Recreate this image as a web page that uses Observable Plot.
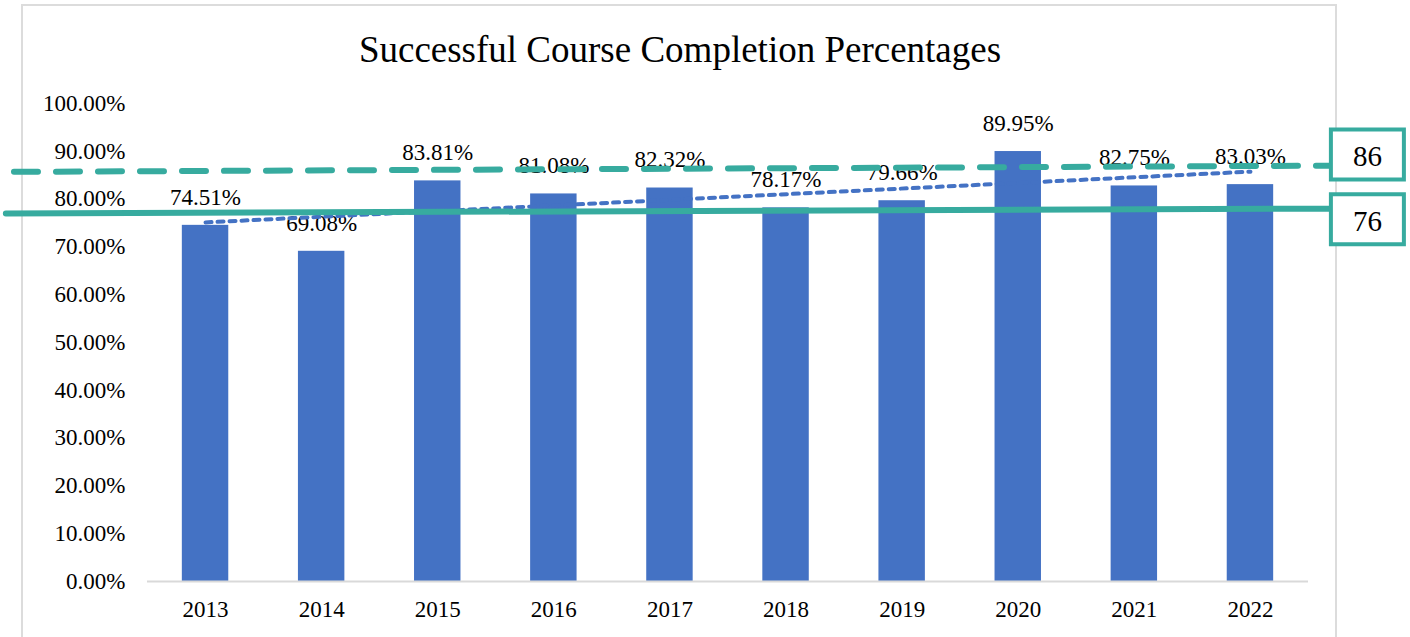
<!DOCTYPE html>
<html>
<head>
<meta charset="utf-8">
<script src="https://cdn.jsdelivr.net/npm/d3@7"></script>
<script src="https://cdn.jsdelivr.net/npm/@observablehq/plot@0.6"></script>
<style>
  html, body { margin: 0; padding: 0; background: #fff; overflow: hidden; }
  #wrap { position: relative; width: 1410px; height: 637px; font-family: "Liberation Serif", "Times New Roman", serif; }
  #frame { position: absolute; left: 21px; top: 4px; width: 1316px; height: 700px; border: 2px solid #dcdcdc; box-sizing: border-box; }
  #title { position: absolute; left: 21px; width: 1318px; top: 31px; text-align: center; font-size: 37px; line-height: 1; color: #000; }
  #chart { position: absolute; left: 0; top: 0; }
  #chart svg, #chart svg text { font-family: "Liberation Serif", "Times New Roman", serif !important; }
</style>
</head>
<body>
<div id="wrap">
  <div id="frame"></div>
  <div id="title">Successful Course Completion Percentages</div>
  <div id="chart"></div>
</div>
<script>
// ---- data ----
const years = [2013, 2014, 2015, 2016, 2017, 2018, 2019, 2020, 2021, 2022];
const values = [74.51, 69.08, 83.81, 81.08, 82.32, 78.17, 79.66, 89.95, 82.75, 83.03];
const yTicks = [0, 10, 20, 30, 40, 50, 60, 70, 80, 90, 100];

// target reference lines (hand-drawn overlays): labels and their drawn levels
const targetLabels = ["86", "76"];
const targetLevelStart = [85.7, 77.0];
const targetLevelEnd = [87.0, 78.0];
const targetXStart = [2011.35, 2011.28];
const targetXEnd = [2022.68, 2022.68];

const data = years.map((y, i) => ({year: y, value: values[i]}));
const teal = "#37AB9F";
const blue = "#4472C4";
const serif = "Liberation Serif";

const targetLine = (i) => [
  {x: targetXStart[i], y: targetLevelStart[i]},
  {x: targetXEnd[i], y: targetLevelEnd[i]}
];

const boxSymbol = {
  draw(context) {
    const w = 73, h = 50;
    context.moveTo(-w / 2, -h / 2);
    context.lineTo(w / 2, -h / 2);
    context.lineTo(w / 2, h / 2);
    context.lineTo(-w / 2, h / 2);
    context.closePath();
  }
};

const chart = Plot.plot({
  width: 1410,
  height: 637,
  marginLeft: 147,
  marginRight: 102,
  marginTop: 103,
  marginBottom: 56,
  style: {fontFamily: serif, fontSize: "23px", color: "#000", background: "transparent", overflow: "visible"},
  x: {type: "linear", domain: [2012.5, 2022.5], nice: false},
  y: {domain: [0, 100], nice: false},
  marks: [
    Plot.axisY({ticks: yTicks, tickFormat: d => d.toFixed(2) + "%", tickSize: 0, tickPadding: 22, fontSize: 23, fontFamily: serif, label: null}),
    Plot.axisX({ticks: years, tickFormat: d => String(d), tickSize: 0, tickPadding: 19, fontSize: 23, fontFamily: serif, label: null}),
    Plot.rectY(data, {x1: d => d.year - 0.2, x2: d => d.year + 0.2, y: "value", fill: blue}),
    Plot.ruleY([0], {stroke: "#d9d9d9", strokeWidth: 2}),
    Plot.text(data, {x: "year", y: "value", text: d => d.value.toFixed(2) + "%", dy: -28, fontSize: 23, fontFamily: serif, fill: "#000"}),
    Plot.linearRegressionY(data, {x: "year", y: "value", ci: 0, stroke: blue, strokeWidth: 4, strokeDasharray: "6,6", strokeLinecap: "round"}),
    Plot.line(targetLine(0), {x: "x", y: "y", stroke: teal, strokeWidth: 6, strokeDasharray: "24,18"}),
    Plot.line(targetLine(1), {x: "x", y: "y", stroke: teal, strokeWidth: 6}),
    Plot.dot([{x: targetXEnd[0], y: +targetLabels[0]}], {x: "x", y: "y", symbol: boxSymbol, r: 10, dx: 38, dy: -16, stroke: teal, strokeWidth: 4, fill: "#fff"}),
    Plot.dot([{x: targetXEnd[1], y: +targetLabels[1]}], {x: "x", y: "y", symbol: boxSymbol, r: 10, dx: 38, dy: 1, stroke: teal, strokeWidth: 4, fill: "#fff"}),
    Plot.text([{x: targetXEnd[0], y: +targetLabels[0], t: targetLabels[0]}], {x: "x", y: "y", text: "t", dx: 38, dy: -14, fontSize: 29, fontFamily: serif, fill: "#000"}),
    Plot.text([{x: targetXEnd[1], y: +targetLabels[1], t: targetLabels[1]}], {x: "x", y: "y", text: "t", dx: 38, dy: 3, fontSize: 29, fontFamily: serif, fill: "#000"})
  ]
});
document.getElementById("chart").appendChild(chart);
</script>
</body>
</html>
